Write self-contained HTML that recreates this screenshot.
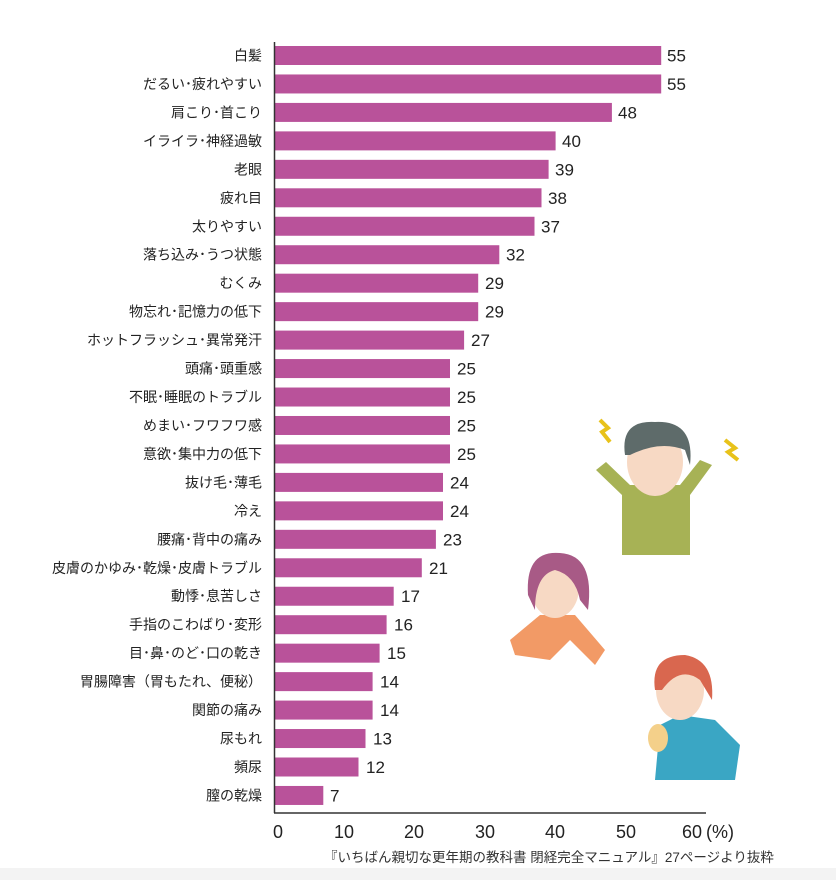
<!DOCTYPE html>
<html><head><meta charset="utf-8"><style>
body{margin:0;background:#fff;}
svg{display:block}
.l{font-family:"Liberation Sans","Noto Sans CJK JP",sans-serif;font-size:14px;fill:#222;text-anchor:end}
.v{font-family:"Liberation Sans Narrow","Liberation Sans",sans-serif;font-size:17px;fill:#222}
.t{font-family:"Liberation Sans Narrow","Liberation Sans",sans-serif;font-size:18px;fill:#222;text-anchor:middle}
.c{font-family:"Liberation Sans","Noto Sans CJK JP",sans-serif;font-size:13.5px;fill:#333}
</style></head><body>
<svg width="836" height="880" xmlns="http://www.w3.org/2000/svg">
<rect x="0" y="868" width="836" height="12" fill="#f3f3f3"/>
<g fill="#b9529a">
<rect x="275" y="46.0" width="386.2" height="19"/>
<rect x="275" y="74.46" width="386.2" height="19"/>
<rect x="275" y="102.92" width="336.9" height="19"/>
<rect x="275" y="131.38" width="280.6" height="19"/>
<rect x="275" y="159.84" width="273.6" height="19"/>
<rect x="275" y="188.3" width="266.5" height="19"/>
<rect x="275" y="216.76" width="259.5" height="19"/>
<rect x="275" y="245.22" width="224.3" height="19"/>
<rect x="275" y="273.68" width="203.2" height="19"/>
<rect x="275" y="302.14" width="203.2" height="19"/>
<rect x="275" y="330.6" width="189.1" height="19"/>
<rect x="275" y="359.06" width="175" height="19"/>
<rect x="275" y="387.52" width="175" height="19"/>
<rect x="275" y="415.98" width="175" height="19"/>
<rect x="275" y="444.44" width="175" height="19"/>
<rect x="275" y="472.9" width="168" height="19"/>
<rect x="275" y="501.36" width="168" height="19"/>
<rect x="275" y="529.82" width="160.9" height="19"/>
<rect x="275" y="558.28" width="146.8" height="19"/>
<rect x="275" y="586.74" width="118.7" height="19"/>
<rect x="275" y="615.2" width="111.6" height="19"/>
<rect x="275" y="643.66" width="104.6" height="19"/>
<rect x="275" y="672.12" width="97.6" height="19"/>
<rect x="275" y="700.58" width="97.6" height="19"/>
<rect x="275" y="729.04" width="90.5" height="19"/>
<rect x="275" y="757.5" width="83.5" height="19"/>
<rect x="275" y="785.96" width="48.3" height="19"/>
</g>
<g>
<text class="l" x="262" y="60.5">白髪</text>
<text class="l" x="262" y="89">だるい･疲れやすい</text>
<text class="l" x="262" y="117.4">肩こり･首こり</text>
<text class="l" x="262" y="145.9">イライラ･神経過敏</text>
<text class="l" x="262" y="174.3">老眼</text>
<text class="l" x="262" y="202.8">疲れ目</text>
<text class="l" x="262" y="231.3">太りやすい</text>
<text class="l" x="262" y="259.7">落ち込み･うつ状態</text>
<text class="l" x="262" y="288.2">むくみ</text>
<text class="l" x="262" y="316.6">物忘れ･記憶力の低下</text>
<text class="l" x="262" y="345.1">ホットフラッシュ･異常発汗</text>
<text class="l" x="262" y="373.6">頭痛･頭重感</text>
<text class="l" x="262" y="402">不眠･睡眠のトラブル</text>
<text class="l" x="262" y="430.5">めまい･フワフワ感</text>
<text class="l" x="262" y="458.9">意欲･集中力の低下</text>
<text class="l" x="262" y="487.4">抜け毛･薄毛</text>
<text class="l" x="262" y="515.9">冷え</text>
<text class="l" x="262" y="544.3">腰痛･背中の痛み</text>
<text class="l" x="262" y="572.8">皮膚のかゆみ･乾燥･皮膚トラブル</text>
<text class="l" x="262" y="601.2">動悸･息苦しさ</text>
<text class="l" x="262" y="629.7">手指のこわばり･変形</text>
<text class="l" x="262" y="658.2">目･鼻･のど･口の乾き</text>
<text class="l" x="262" y="686.6">胃腸障害（胃もたれ、便秘）</text>
<text class="l" x="262" y="715.1">関節の痛み</text>
<text class="l" x="262" y="743.5">尿もれ</text>
<text class="l" x="262" y="772">頻尿</text>
<text class="l" x="262" y="800.5">膣の乾燥</text>
</g>
<g>
<text class="v" x="667" y="61.5">55</text>
<text class="v" x="667" y="90">55</text>
<text class="v" x="618" y="118.4">48</text>
<text class="v" x="562" y="146.9">40</text>
<text class="v" x="555" y="175.3">39</text>
<text class="v" x="548" y="203.8">38</text>
<text class="v" x="541" y="232.3">37</text>
<text class="v" x="506" y="260.7">32</text>
<text class="v" x="485" y="289.2">29</text>
<text class="v" x="485" y="317.6">29</text>
<text class="v" x="471" y="346.1">27</text>
<text class="v" x="457" y="374.6">25</text>
<text class="v" x="457" y="403">25</text>
<text class="v" x="457" y="431.5">25</text>
<text class="v" x="457" y="459.9">25</text>
<text class="v" x="450" y="488.4">24</text>
<text class="v" x="450" y="516.9">24</text>
<text class="v" x="443" y="545.3">23</text>
<text class="v" x="429" y="573.8">21</text>
<text class="v" x="401" y="602.2">17</text>
<text class="v" x="394" y="630.7">16</text>
<text class="v" x="387" y="659.2">15</text>
<text class="v" x="380" y="687.6">14</text>
<text class="v" x="380" y="716.1">14</text>
<text class="v" x="373" y="744.5">13</text>
<text class="v" x="366" y="773">12</text>
<text class="v" x="330" y="801.5">7</text>
</g>
<line x1="274.5" y1="42" x2="274.5" y2="813" stroke="#333" stroke-width="1.5"/>
<line x1="274" y1="813" x2="706" y2="813" stroke="#333" stroke-width="1.5"/>
<text class="t" x="278" y="838">0</text><text class="t" x="344" y="838">10</text><text class="t" x="414" y="838">20</text><text class="t" x="485" y="838">30</text><text class="t" x="555" y="838">40</text><text class="t" x="626" y="838">50</text><text class="t" x="692" y="838">60</text><text class="t" x="720" y="838">(%)</text>
<text class="c" x="324" y="862">『いちばん親切な更年期の教科書 閉経完全マニュアル』27ページより抜粋</text>
<g>
<rect x="622" y="495" width="68" height="60" fill="#a7b255"/>
<path d="M596 470 L622 495 L690 495 L712 465 L700 460 L680 485 L630 485 L606 462Z" fill="#a7b255"/>
<ellipse cx="655" cy="462" rx="28" ry="34" fill="#f7d9c4"/>
<path d="M625 455 Q620 420 655 422 Q695 420 690 465 L685 450 Q660 440 630 455Z" fill="#5e6b6a"/>
<path d="M600 420 L608 428 L602 432 L610 442" stroke="#e8c21a" stroke-width="4" fill="none"/>
<path d="M725 440 L735 448 L728 452 L738 460" stroke="#e8c21a" stroke-width="4" fill="none"/>
</g>
<g>
<path d="M510 640 L540 615 L575 615 L605 650 L595 665 L570 640 L550 660 L515 655Z" fill="#f29a66"/>
<ellipse cx="555" cy="588" rx="24" ry="30" fill="#f7d9c4"/>
<path d="M528 595 Q525 550 560 553 Q595 555 588 610 L580 600 Q575 575 555 570 Q535 575 535 610Z" fill="#a85a86"/>
</g>
<g>
<path d="M655 780 L660 725 L680 715 L715 720 L740 745 L735 780Z" fill="#3aa6c4"/>
<ellipse cx="680" cy="690" rx="24" ry="30" fill="#f7d9c4"/>
<path d="M655 690 Q650 655 685 655 Q715 660 712 700 L700 680 Q680 665 662 690Z" fill="#d9674f"/>
<ellipse cx="658" cy="738" rx="10" ry="14" fill="#f4d08a"/>
</g>
</svg>
</body></html>
